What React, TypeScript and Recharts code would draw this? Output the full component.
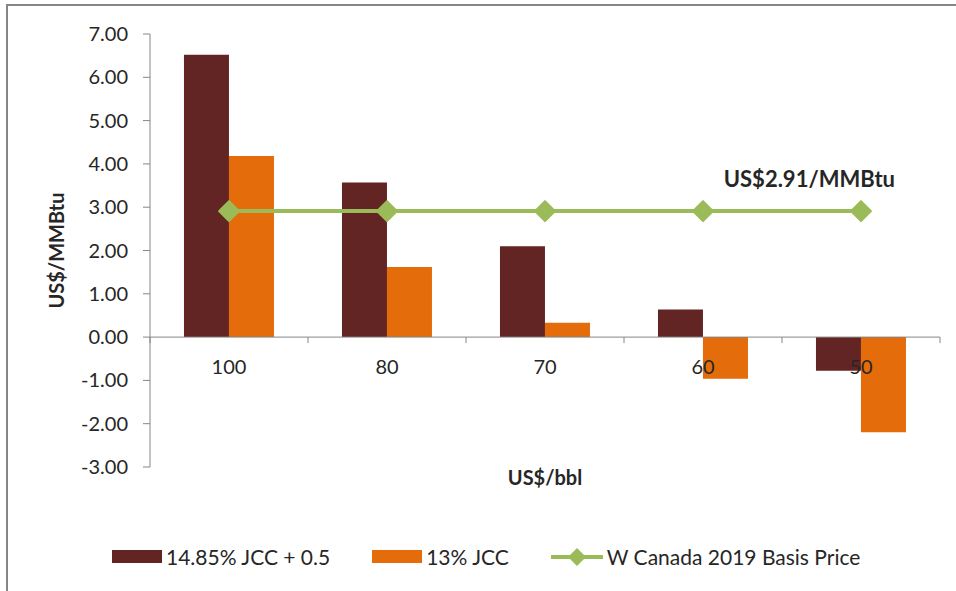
import React from "react";
import { Bar, ComposedChart, Label, Line, ReferenceLine, XAxis, YAxis } from "recharts";

const categories = ["100", "80", "70", "60", "50"];
const jccPlusSeries = [6.52, 3.57, 2.1, 0.64, -0.78];
const jcc13Series = [4.18, 1.62, 0.33, -0.96, -2.2];
const basisSeries = [2.91, 2.91, 2.91, 2.91, 2.91];
const yTicks = [-3, -2, -1, 0, 1, 2, 3, 4, 5, 6, 7];

const FONT = "Lato, 'Open Sans', sans-serif";
const W = 956;
const H = 591;
const X_AXIS_H = 30;
const MARGIN = { top: 34, right: 16, bottom: 124 - X_AXIS_H, left: 0 };
const Y_AXIS_W = 150;
const PLOT_H = H - MARGIN.top - MARGIN.bottom - X_AXIS_H;
const PLOT_W = W - MARGIN.left - MARGIN.right - Y_AXIS_W;
const PLOT_BOTTOM = MARGIN.top + PLOT_H;
const Y_MIN = yTicks[0];
const Y_MAX = yTicks[yTicks.length - 1];
const ZERO_Y = MARGIN.top + (PLOT_H * Y_MAX) / (Y_MAX - Y_MIN);

const DARK = "#632523";
const ORANGE = "#E46C0A";
const GREEN = "#9BBB59";
const AXIS = "#868686";
const TEXT = "#262626";

const data = categories.map((cat, i) => ({
  cat,
  jccPlus: jccPlusSeries[i],
  jcc13: jcc13Series[i],
  basis: basisSeries[i],
}));

// x labels sit just under the zero line, not at the bottom of the plot
function CategoryTick(props: any) {
  const { x, payload, index } = props;
  const band = PLOT_W / categories.length;
  const left = x - band / 2;
  const right = x + band / 2;
  return (
    <g>
      <line x1={left} x2={left} y1={ZERO_Y} y2={ZERO_Y + 6} stroke={AXIS} />
      {index === categories.length - 1 && (
        <line x1={right} x2={right} y1={ZERO_Y} y2={ZERO_Y + 6} stroke={AXIS} />
      )}
      <text x={x} y={ZERO_Y + 37} textAnchor="middle" fill={TEXT} fontSize={20} fontFamily={FONT}>
        {payload.value}
      </text>
    </g>
  );
}

function ValueTick(props: any) {
  const { y, payload } = props;
  return (
    <text
      x={Y_AXIS_W - 22}
      y={y}
      dy={7}
      textAnchor="end"
      fill={TEXT}
      fontSize={20}
      fontFamily={FONT}
    >
      {payload.value.toFixed(2)}
    </text>
  );
}

function Diamond(props: any) {
  const { cx, cy } = props;
  if (cx == null || cy == null) return null;
  const r = 10;
  return (
    <path
      d={`M${cx},${cy - r} L${cx + r},${cy} L${cx},${cy + r} L${cx - r},${cy} Z`}
      fill={GREEN}
      stroke={GREEN}
      strokeLinejoin="round"
      strokeWidth={2}
    />
  );
}

function PriceLabel(props: any) {
  const { x, y, index, value } = props;
  if (index !== basisSeries.length - 1) return null;
  return (
    <text
      x={x + 34}
      y={y - 24}
      textAnchor="end"
      fill={TEXT}
      fontWeight="bold"
      fontSize={22}
      fontFamily={FONT}
    >
      {`US$${value.toFixed(2)}/MMBtu`}
    </text>
  );
}

function ChartLegend() {
  const items = [
    { name: "14.85% JCC + 0.5", kind: "bar", color: DARK },
    { name: "13% JCC", kind: "bar", color: ORANGE },
    { name: "W Canada 2019 Basis Price", kind: "line", color: GREEN },
  ];
  return (
    <div
      style={{
        position: "absolute",
        top: 544,
        left: 0,
        display: "flex",
        alignItems: "center",
        paddingLeft: 112,
        gap: 42,
        fontFamily: FONT,
        fontSize: 21,
        color: TEXT,
      }}
    >
      {items.map((it) => (
        <span key={it.name} style={{ display: "flex", alignItems: "center", gap: 4 }}>
          {it.kind === "bar" ? (
            <span style={{ width: 50, height: 13, background: it.color, display: "inline-block" }} />
          ) : (
            <svg width={52} height={20}>
              <line x1={0} x2={52} y1={10} y2={10} stroke={it.color} strokeWidth={4} />
              <path d="M26,1 L35,10 L26,19 L17,10 Z" fill={it.color} />
            </svg>
          )}
          <span>{it.name}</span>
        </span>
      ))}
    </div>
  );
}

export default function App() {
  return (
    <div style={{ position: "absolute", left: 0, top: 0, width: W, height: H, background: "#fff", overflow: "hidden" }}>
      <div
        style={{
          position: "absolute",
          left: 6,
          top: 4,
          width: W,
          height: H,
          borderTop: `2px solid ${AXIS}`,
          borderLeft: `2px solid ${AXIS}`,
        }}
      />
      <div style={{ position: "absolute", left: 0, top: 0 }}>
        <ComposedChart width={W} height={H} data={data} margin={MARGIN} barCategoryGap="21.5%" barGap={0}>
          <XAxis
            dataKey="cat"
            height={X_AXIS_H}
            axisLine={false}
            tickLine={false}
            tick={<CategoryTick />}
            interval={0}
          >
            <Label
              value="US$/bbl"
              position="insideTop"
              offset={4}
              style={{ fontFamily: FONT, fontSize: 20, fontWeight: "bold", fill: TEXT }}
            />
          </XAxis>
          <YAxis
            width={Y_AXIS_W}
            domain={[Y_MIN, Y_MAX]}
            ticks={yTicks}
            interval={0}
            allowDataOverflow
            axisLine={{ stroke: AXIS }}
            tickLine={{ stroke: AXIS }}
            tickSize={7}
            tick={<ValueTick />}
          >
            <Label
              value="US$/MMBtu"
              angle={-90}
              position="insideLeft"
              offset={57}
              style={{ fontFamily: FONT, fontSize: 20, fontWeight: "bold", fill: TEXT, textAnchor: "middle" }}
            />
          </YAxis>
          <ReferenceLine y={0} stroke={AXIS} />
          <Bar dataKey="jccPlus" name="14.85% JCC + 0.5" fill={DARK} isAnimationActive={false} />
          <Bar dataKey="jcc13" name="13% JCC" fill={ORANGE} isAnimationActive={false} />
          <Line
            dataKey="basis"
            name="W Canada 2019 Basis Price"
            stroke={GREEN}
            strokeWidth={4}
            dot={<Diamond />}
            activeDot={false}
            label={<PriceLabel />}
            isAnimationActive={false}
          />
        </ComposedChart>
      </div>
      <ChartLegend />
    </div>
  );
}
